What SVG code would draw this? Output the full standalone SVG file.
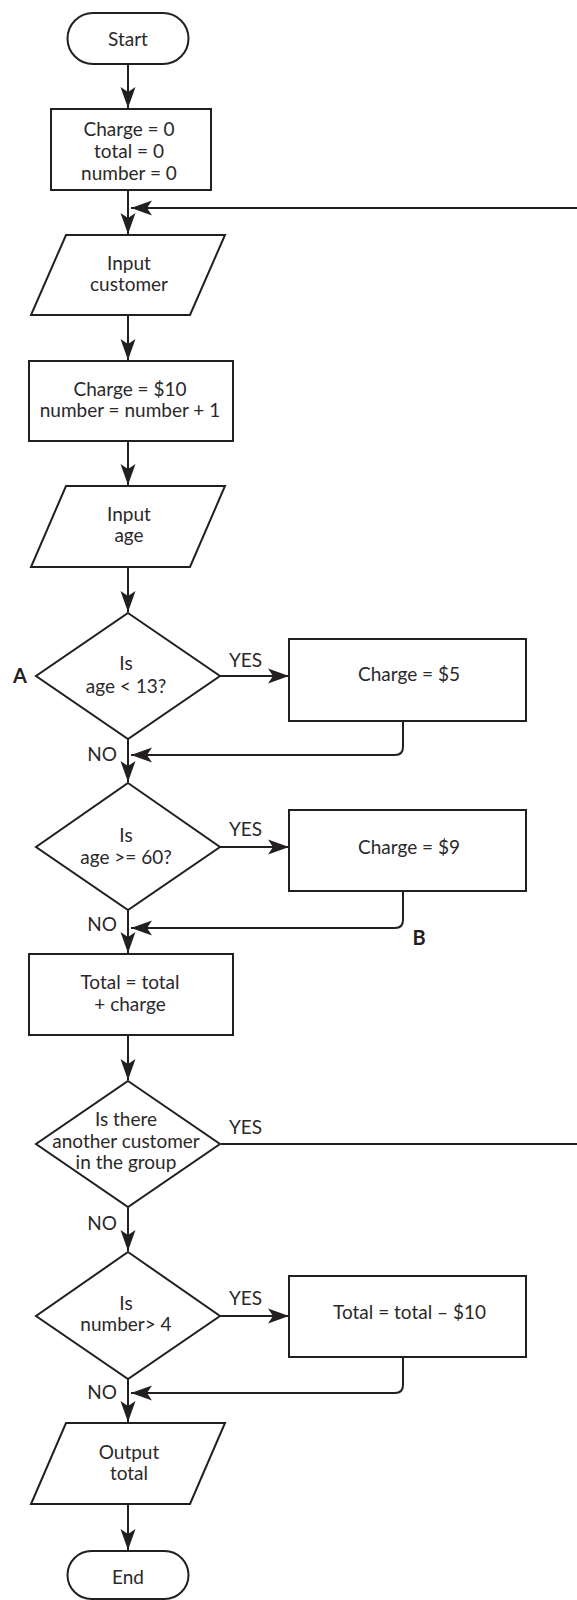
<svg xmlns="http://www.w3.org/2000/svg" width="577" height="1600" viewBox="0 0 577 1600">
<style>
.s{fill:#fff;stroke:#231f20;stroke-width:2}
.c{fill:none;stroke:#231f20;stroke-width:2}
text{font-family:Lato,"Open Sans","Liberation Sans",sans-serif;font-size:19px;font-weight:400;fill:#2b2829;text-anchor:middle}
.b{font-weight:bold;font-size:20px;fill:#231f20}
</style>
<defs>
<marker id="ah" markerUnits="userSpaceOnUse" markerWidth="22" markerHeight="16" refX="21" refY="8" orient="auto">
<path d="M0,0.5 L21,8 L0,15.5 L5,8 Z" fill="#231f20"/>
</marker>
</defs>
<g id="connectors">
<path class="c" d="M128,64 V108" marker-end="url(#ah)"/>
<path class="c" d="M128,190 V234" marker-end="url(#ah)"/>
<path class="c" d="M221,1144 H579 V208 H131" marker-end="url(#ah)"/>
<path class="c" d="M128,315 V360" marker-end="url(#ah)"/>
<path class="c" d="M128,441 V485" marker-end="url(#ah)"/>
<path class="c" d="M128,567 V612" marker-end="url(#ah)"/>
<path class="c" d="M220,676 H289" marker-end="url(#ah)"/>
<path class="c" d="M128,739 V782" marker-end="url(#ah)"/>
<path class="c" d="M403,721 V747 Q403,755 395,755 H131" marker-end="url(#ah)"/>
<path class="c" d="M220,847 H289" marker-end="url(#ah)"/>
<path class="c" d="M128,910 V953" marker-end="url(#ah)"/>
<path class="c" d="M403,891 V920 Q403,928 395,928 H131" marker-end="url(#ah)"/>
<path class="c" d="M128,1035 V1080" marker-end="url(#ah)"/>
<path class="c" d="M128,1207 V1251" marker-end="url(#ah)"/>
<path class="c" d="M220,1316 H289" marker-end="url(#ah)"/>
<path class="c" d="M128,1379 V1422" marker-end="url(#ah)"/>
<path class="c" d="M403,1357 V1385 Q403,1393 395,1393 H131" marker-end="url(#ah)"/>
<path class="c" d="M128,1504 V1550" marker-end="url(#ah)"/>
</g>
<g id="start">
<rect class="s" x="67.5" y="13" width="121" height="51" rx="25.5"/>
<text x="128" y="46">Start</text>
</g>
<g id="init">
<rect class="s" x="51" y="109" width="160" height="81"/>
<text x="129" y="136">Charge = 0</text>
<text x="129" y="158">total = 0</text>
<text x="129" y="180">number = 0</text>
</g>
<g id="input-customer">
<polygon class="s" points="66,235 225,235 190,315 31,315"/>
<text x="129" y="270">Input</text>
<text x="129" y="290.5">customer</text>
</g>
<g id="set-charge">
<rect class="s" x="29" y="361" width="204" height="80"/>
<text x="130" y="396">Charge = $10</text>
<text x="130" y="417">number = number + 1</text>
</g>
<g id="input-age">
<polygon class="s" points="66,486 225,486 190,567 31,567"/>
<text x="129" y="521">Input</text>
<text x="129" y="542">age</text>
</g>
<g id="dec-child">
<polygon class="s" points="128,613 220,676 128,739 36,676"/>
<text x="126" y="670">Is</text>
<text x="126" y="692.5">age &lt; 13?</text>
</g>
<g id="label-a"><text class="b" x="20" y="683">A</text></g>
<g id="yes1"><text x="245.5" y="666.5">YES</text></g>
<g id="charge5">
<rect class="s" x="289" y="639" width="237" height="82"/>
<text x="409" y="681">Charge = $5</text>
</g>
<g id="no1"><text x="102" y="760.5">NO</text></g>
<g id="dec-senior">
<polygon class="s" points="128,783 220,847 128,910 36,847"/>
<text x="126" y="841.5">Is</text>
<text x="126" y="863.5">age &gt;= 60?</text>
</g>
<g id="yes2"><text x="245.5" y="835.5">YES</text></g>
<g id="charge9">
<rect class="s" x="289" y="810" width="237" height="81"/>
<text x="409" y="854">Charge = $9</text>
</g>
<g id="no2"><text x="102" y="930.5">NO</text></g>
<g id="label-b"><text class="b" x="419" y="945">B</text></g>
<g id="add-total">
<rect class="s" x="29" y="954" width="204" height="81"/>
<text x="130" y="989">Total = total</text>
<text x="130" y="1010.5">+ charge</text>
</g>
<g id="dec-another">
<polygon class="s" points="128,1081 220,1144 128,1207 36,1144"/>
<text x="126" y="1126">Is there</text>
<text x="126" y="1147.5">another customer</text>
<text x="126" y="1168.5">in the group</text>
</g>
<g id="yes3"><text x="245.5" y="1133.5">YES</text></g>
<g id="no3"><text x="102" y="1229.5">NO</text></g>
<g id="dec-group">
<polygon class="s" points="128,1252 220,1316 128,1379 36,1316"/>
<text x="126" y="1310">Is</text>
<text x="126" y="1331">number&gt; 4</text>
</g>
<g id="yes4"><text x="245.5" y="1304.5">YES</text></g>
<g id="discount">
<rect class="s" x="289" y="1276" width="237" height="81"/>
<text x="409.5" y="1319">Total = total – $10</text>
</g>
<g id="no4"><text x="102" y="1398.5">NO</text></g>
<g id="output">
<polygon class="s" points="66,1423 225,1423 190,1504 31,1504"/>
<text x="129" y="1459">Output</text>
<text x="129" y="1480">total</text>
</g>
<g id="end">
<rect class="s" x="67.5" y="1551" width="121" height="48" rx="24"/>
<text x="128" y="1584">End</text>
</g>
</svg>
